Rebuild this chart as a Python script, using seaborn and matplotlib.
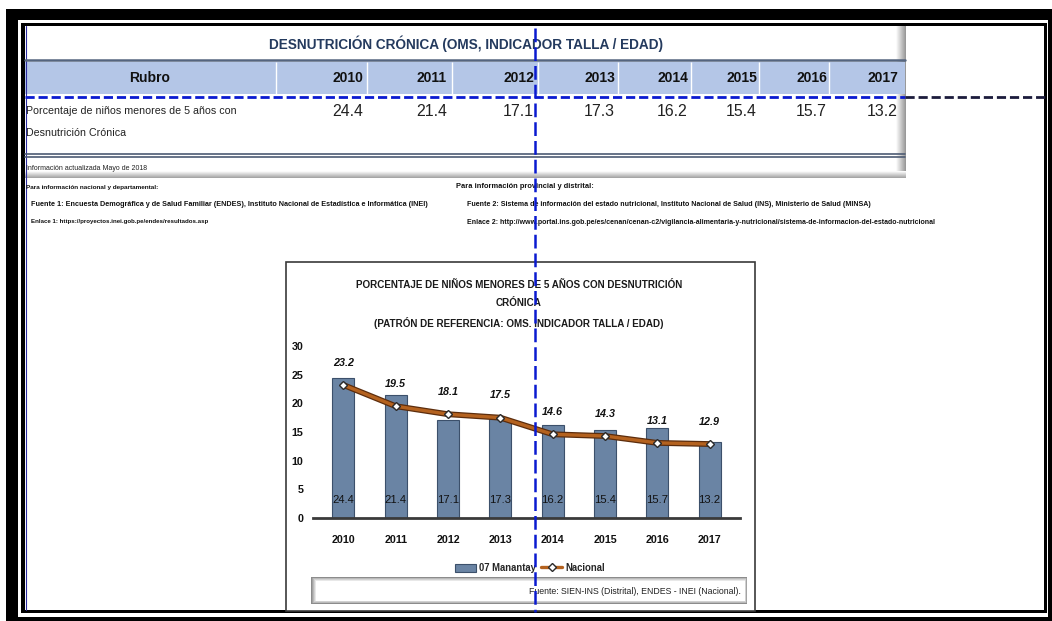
import numpy as np
import pandas as pd
import seaborn as sns
import matplotlib.pyplot as plt
from matplotlib.patches import Rectangle
from matplotlib.lines import Line2D

sns.set_theme(style='white')
FAM = ['Liberation Sans', 'DejaVu Sans']
plt.rcParams['font.family'] = FAM

# ------------------------------------------------ data ------------------------------------------------
anios = ['2010', '2011', '2012', '2013', '2014', '2015', '2016', '2017']
manantay = [24.4, 21.4, 17.1, 17.3, 16.2, 15.4, 15.7, 13.2]
nacional = [23.2, 19.5, 18.1, 17.5, 14.6, 14.3, 13.1, 12.9]
y_ticks = [0, 5, 10, 15, 20, 25, 30]
serie_labels = ['07 Manantay', 'Nacional']

titulo_tabla = 'DESNUTRICIÓN CRÓNICA (OMS, INDICADOR TALLA / EDAD)'
rubro = ['Porcentaje de niños menores de 5 años con', 'Desnutrición Crónica']
titulo_graf = ['PORCENTAJE DE NIÑOS MENORES DE 5 AÑOS CON DESNUTRICIÓN',
               'CRÓNICA',
               '(PATRÓN DE REFERENCIA: OMS. INDICADOR TALLA / EDAD)']
nota_fecha = 'Información actualizada Mayo de 2018'
nota_nac = ['Para información nacional y departamental:',
            'Fuente 1: Encuesta Demográfica y de Salud Familiar (ENDES), Instituto Nacional de Estadística e Informática (INEI)',
            'Enlace 1: https://proyectos.inei.gob.pe/endes/resultados.asp']
nota_dist = ['Para información provincial y distrital:',
             'Fuente 2: Sistema de información del estado nutricional, Instituto Nacional de Salud (INS), Ministerio de Salud (MINSA)',
             'Enlace 2: http://www.portal.ins.gob.pe/es/cenan/cenan-c2/vigilancia-alimentaria-y-nutricional/sistema-de-informacion-del-estado-nutricional']
fuente_graf = 'Fuente: SIEN-INS (Distrital), ENDES - INEI (Nacional).'

# table column layout (pixels)
col_right = [363, 447, 534, 615, 688, 757, 827, 898]
col_sep = [276, 367, 452, 538, 618, 691, 759, 829]

fig = plt.figure(figsize=(10.52, 6.21), dpi=100)
bg = fig.add_axes([0, 0, 1, 1])
bg.set_xlim(0, 1052)
bg.set_ylim(621, 0)
bg.axis('off')


def rect(x0, y0, x1, y1, **kw):
    kw.setdefault('lw', 0)
    bg.add_patch(Rectangle((x0, y0), x1 - x0, y1 - y0, **kw))


def fit(t, width):
    # scale font so the text spans the given pixel width
    w = t.get_window_extent(fig.canvas.get_renderer()).width
    t.set_fontsize(t.get_fontsize() * width / w)
    return t


def size_for(s, width, **kw):
    t = fit(bg.text(0, 0, s, fontsize=10, **kw), width)
    fs = t.get_fontsize()
    t.remove()
    return fs


# ------------------------------------------------ sheet frame ------------------------------------------------
rect(6, 9, 1052, 621, color='black')
rect(18, 20, 1048, 617, color='white')
rect(21, 23, 1047, 613, color='black')
rect(25, 26, 1044, 610, color='white')
bg.plot([25.5, 25.5], [26, 610], color='#2a2aa0', lw=0.8)

# table shadows
for k, g in enumerate(np.linspace(0.98, 0.6, 10)):
    rect(896 + k, 26, 897 + k, 178, color=str(g))
for k, g in enumerate(np.linspace(0.98, 0.65, 7)):
    rect(25, 171 + k, 906, 172 + k, color=str(g))

# ------------------------------------------------ table ------------------------------------------------
fit(bg.text(466, 44, titulo_tabla, ha='center', va='center', color='#243a5e', fontweight='bold', fontsize=12), 396)
bg.plot([25, 905], [60, 60], color='#55657f', lw=1.8)
rect(25, 62, 905, 94, color='#b4c6e7')
bg.vlines(col_sep, 62, 94, color='white', lw=1)
fs_head = size_for('2010', 31, fontweight='bold')
bg.text(150, 78, 'Rubro', ha='center', va='center', fontweight='bold', fontsize=fs_head, color='#111111')
for r, a in zip(col_right, anios):
    bg.text(r, 78, a, ha='right', va='center', fontweight='bold', fontsize=fs_head, color='#111111')
fs_val = size_for('24.4', 31)
for r, v in zip(col_right, manantay):
    bg.text(r, 112, f'{v:.1f}', ha='right', va='center', fontsize=fs_val, color='#222222')
t = fit(bg.text(26, 111, rubro[0], ha='left', va='center', fontsize=10, color='#222222'), 210)
bg.text(26, 133, rubro[1], ha='left', va='center', fontsize=t.get_fontsize(), color='#222222')
bg.plot([25, 905], [154, 154], color='#4d5b73', lw=1.2)
bg.plot([25, 905], [156.8, 156.8], color='#4d5b73', lw=1.2)

bg.plot([25, 905], [96.5, 96.5], color='#0a1ad0', lw=2, dashes=(3.3, 1.4))
bg.plot([905, 1046], [96.5, 96.5], color='#1c1c3c', lw=2, dashes=(3.3, 1.4))

# ------------------------------------------------ notes ------------------------------------------------
fit(bg.text(26, 169, nota_fecha, ha='left', va='center', fontsize=7, color='#222222'), 120)
for (x, y, w), s in zip([(26, 187, 134), (31, 204, 400), (31, 222, 178)], nota_nac):
    fit(bg.text(x, y, s, ha='left', va='center', fontsize=7, fontweight='bold', color='#111111'), w)
for (x, y, w), s in zip([(456, 187, 136), (467, 204, 408), (467, 222, 466)], nota_dist):
    fit(bg.text(x, y, s, ha='left', va='center', fontsize=7, fontweight='bold', color='#111111'), w)

# ------------------------------------------------ chart box ------------------------------------------------
rect(286, 262, 755, 611, fc='white', ec='#3a3a3a', lw=1.2)
t = fit(bg.text(519, 285, titulo_graf[0], ha='center', va='center', fontweight='bold', fontsize=8,
                color='#1a1a1a'), 330)
bg.text(519, 303, titulo_graf[1], ha='center', va='center', fontweight='bold', fontsize=t.get_fontsize(),
        color='#1a1a1a')
bg.text(519, 323, titulo_graf[2], ha='center', va='center', fontweight='bold', fontsize=t.get_fontsize(),
        color='#1a1a1a')

for k, g in enumerate(np.linspace(0.55, 1.0, 6)):
    rect(311 + k, 577 + k * 0.7, 747 - k * 0.5, 604 - k * 0.7, color=str(g))
fit(bg.text(741, 592, fuente_graf, ha='right', va='center', fontsize=7, color='#222222'), 210)

# ------------------------------------------------ chart ------------------------------------------------
fs_tick = size_for('2010', 24, fontweight='bold')
fs_bar = size_for('24.4', 22)
fs_nac = size_for('18.1', 21, fontweight='bold', fontstyle='italic')
fs_leg = size_for(serie_labels[0], 57, fontweight='bold')

df = pd.DataFrame({'anio': anios, 'manantay': manantay, 'nacional': nacional})
ax = fig.add_axes([313 / 1052, 1 - 518 / 621, 427 / 1052, 172 / 621])
ax.patch.set_alpha(0)

sns.barplot(data=df, x='anio', y='manantay', ax=ax, color='#6a84a4', saturation=1, width=0.42,
            edgecolor='#3c506b', linewidth=0.8)
sns.pointplot(data=df, x='anio', y='nacional', ax=ax, color='#b4621f', markers='D', markersize=4.5,
              linewidth=2.4, errorbar=None)
ln = ax.lines[-1]
ln.set_markerfacecolor('white')
ln.set_markeredgecolor('#2b2b2b')
ln.set_markeredgewidth(1)
ln.set_zorder(4)
ax.plot(ln.get_xdata(), ln.get_ydata(), color='#5c2d0d', lw=4.2, zorder=3, solid_capstyle='round')

for p, v in zip(ax.patches, manantay):
    ax.text(p.get_x() + p.get_width() / 2, 3.2, f'{v:.1f}', ha='center', va='center', fontsize=fs_bar,
            color='#111111')
for x, v in zip(ln.get_xdata(), nacional):
    ax.annotate(f'{v:.1f}', (x, v), xytext=(0, 16), textcoords='offset points', ha='center', va='center',
                fontsize=fs_nac, fontweight='bold', fontstyle='italic', color='#111111')

ax.set_ylim(0, 30)
ax.set_yticks(y_ticks)
ax.set_xlabel('')
ax.set_ylabel('')
sns.despine(ax=ax, left=True)
ax.spines['bottom'].set_color('#3a3a3a')
ax.spines['bottom'].set_linewidth(2)
ax.tick_params(axis='x', length=0, pad=12, labelsize=fs_tick)
ax.tick_params(axis='y', length=0, pad=7, labelsize=fs_tick)
for lbl in ax.get_xticklabels() + ax.get_yticklabels():
    lbl.set_fontweight('bold')
    lbl.set_color('#111111')

ax.legend(handles=[ax.containers[0], ln], labels=serie_labels, loc='center',
          bbox_to_anchor=(530 / 1052, 1 - 568 / 621), bbox_transform=fig.transFigure, ncol=2, frameon=False,
          prop=dict(weight='bold', size=fs_leg), handlelength=2.2, handleheight=0.9,
          columnspacing=0.6, handletextpad=0.3, borderpad=0)

# page break guide
fig.add_artist(Line2D([535 / 1052] * 2, [1 - 28 / 621, 1 - 612 / 621], transform=fig.transFigure,
                      color='#0a1ad0', lw=1.8, dashes=(5.5, 2), zorder=10))

fig.savefig('out.png', dpi=100)
